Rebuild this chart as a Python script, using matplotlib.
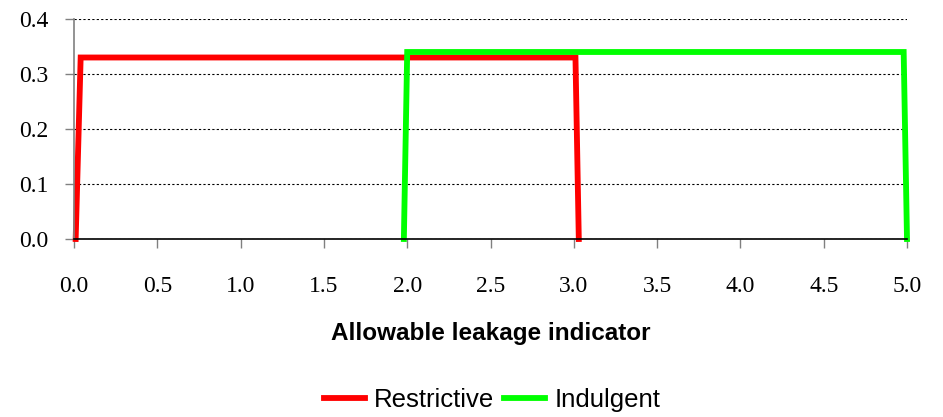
import matplotlib
matplotlib.use("Agg")
import matplotlib.pyplot as plt

restrictive_x = [0.01, 0.04, 3.01, 3.03]
restrictive_y = [0.0, 0.33, 0.33, 0.0]
indulgent_x = [1.98, 2.0, 4.98, 5.0]
indulgent_y = [0.0, 0.34, 0.34, 0.0]
x_ticks = [0.0, 0.5, 1.0, 1.5, 2.0, 2.5, 3.0, 3.5, 4.0, 4.5, 5.0]
y_ticks = [0.0, 0.1, 0.2, 0.3, 0.4]

fig = plt.figure(figsize=(9.43, 4.17), dpi=100)
ax = fig.add_axes([74/943, 1-239/417, (907-74)/943, (239-19)/417])

ax.plot(restrictive_x, restrictive_y, color="#ff0000", lw=4.2, label="Restrictive", clip_on=False, solid_joinstyle="miter")
ax.plot(indulgent_x, indulgent_y, color="#00ff00", lw=4.2, label="Indulgent", clip_on=False, solid_joinstyle="miter")

ax.set_xlim(0, 5)
ax.set_ylim(0, 0.4)
ax.set_xticks(x_ticks)
ax.set_yticks(y_ticks)
ax.set_xticklabels([f"{v:.1f}" for v in x_ticks], fontfamily="Liberation Serif", fontsize=17)
ax.set_yticklabels([f"{v:.1f}" for v in y_ticks], fontfamily="Liberation Serif", fontsize=17)
ax.tick_params(axis="both", direction="out", length=6.5, color="#808080", width=1)
ax.tick_params(axis="x", pad=20)
ax.tick_params(axis="y", pad=12)

for s in ["top", "right"]:
    ax.spines[s].set_visible(False)
ax.spines["left"].set_color("#808080")
ax.spines["left"].set_linewidth(1.2)
ax.spines["bottom"].set_color("black")
ax.spines["bottom"].set_linewidth(1.2)

ax.yaxis.grid(True, linestyle=(0, (2, 2)), color="black", linewidth=0.8)
ax.set_axisbelow(True)

ax.set_xlabel("Allowable leakage indicator", fontfamily="Liberation Sans", fontweight="bold", fontsize=17.5, labelpad=18)

leg = fig.legend(loc="center", bbox_to_anchor=(492/943, 1-400/417), ncol=2, frameon=False,
                 prop={"family": "Liberation Sans", "size": 18.5}, handlelength=1.6, handletextpad=0.35,
                 columnspacing=0.4)

fig.savefig("out.png", dpi=100)
